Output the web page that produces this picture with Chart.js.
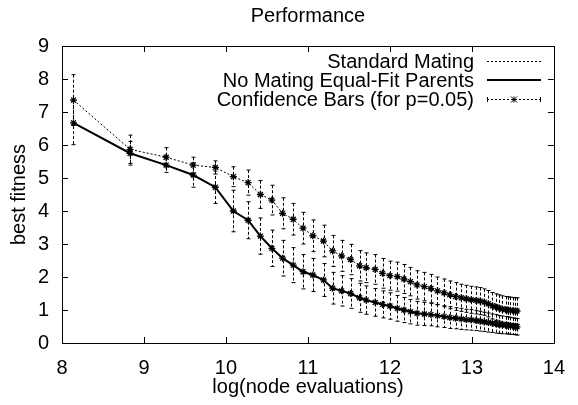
<!DOCTYPE html>
<html>
<head>
<meta charset="utf-8">
<script src="https://cdn.jsdelivr.net/npm/chart.js@4/dist/chart.umd.min.js"></script>
<style>
  html, body { margin: 0; padding: 0; background: #fff; }
  #wrap { width: 578px; height: 405px; }
</style>
</head>
<body>
<div id="wrap"><canvas id="chart" width="578" height="405"></canvas></div>
<script>
const FONT = "'Liberation Sans', Arial, Helvetica, sans-serif";

// log(node evaluations) for each generation
const logEvals = [8.14, 8.83, 9.27, 9.60, 9.87, 10.09, 10.27, 10.42, 10.56, 10.69,
  10.82, 10.94, 11.06, 11.19, 11.30, 11.41, 11.52, 11.63, 11.71, 11.82,
  11.91, 12.00, 12.09, 12.17, 12.25, 12.33, 12.42, 12.50, 12.58, 12.66,
  12.73, 12.80, 12.87, 12.93, 12.99, 13.05, 13.10, 13.15, 13.20, 13.25,
  13.29, 13.33, 13.37, 13.41, 13.44, 13.47, 13.50, 13.53, 13.55];

const standardMating = [7.36, 5.87, 5.63, 5.39, 5.32, 5.04, 4.86, 4.50, 4.33, 3.93,
  3.75, 3.48, 3.25, 3.09, 2.79, 2.64, 2.53, 2.34, 2.28, 2.23,
  2.11, 2.04, 2.01, 1.94, 1.86, 1.76, 1.71, 1.65, 1.58, 1.52,
  1.46, 1.41, 1.37, 1.34, 1.31, 1.29, 1.27, 1.24, 1.19, 1.13,
  1.09, 1.06, 1.03, 1.01, 1.00, 0.99, 0.98, 0.97, 0.97];

const standardErr = [0.77, 0.43, 0.29, 0.24, 0.20, 0.30, 0.38, 0.42, 0.45, 0.47,
  0.48, 0.48, 0.48, 0.48, 0.47, 0.47, 0.46, 0.46, 0.45, 0.45,
  0.45, 0.44, 0.44, 0.44, 0.43, 0.43, 0.43, 0.43, 0.42, 0.42,
  0.42, 0.42, 0.41, 0.41, 0.41, 0.41, 0.41, 0.40, 0.40, 0.40,
  0.40, 0.40, 0.40, 0.40, 0.40, 0.40, 0.40, 0.40, 0.40];

const noMating = [6.67, 5.75, 5.39, 5.09, 4.72, 4.00, 3.72, 3.24, 2.87, 2.57,
  2.36, 2.16, 2.06, 1.91, 1.66, 1.58, 1.50, 1.37, 1.30, 1.23,
  1.17, 1.12, 1.05, 1.00, 0.95, 0.90, 0.88, 0.86, 0.83, 0.80,
  0.77, 0.75, 0.73, 0.71, 0.70, 0.68, 0.66, 0.64, 0.62, 0.60,
  0.58, 0.56, 0.55, 0.54, 0.53, 0.52, 0.51, 0.50, 0.49];

const noMatingErr = [0.66, 0.36, 0.22, 0.37, 0.49, 0.63, 0.56, 0.55, 0.55, 0.54,
  0.53, 0.52, 0.50, 0.50, 0.48, 0.46, 0.45, 0.44, 0.43, 0.42,
  0.41, 0.40, 0.39, 0.38, 0.37, 0.36, 0.35, 0.34, 0.34, 0.33,
  0.33, 0.32, 0.32, 0.31, 0.31, 0.30, 0.30, 0.29, 0.29, 0.28,
  0.28, 0.27, 0.27, 0.26, 0.26, 0.26, 0.25, 0.25, 0.25];

const xTicks = [8, 9, 10, 11, 12, 13, 14];
const yTicks = [0, 1, 2, 3, 4, 5, 6, 7, 8, 9];

const legendLabels = ["Standard Mating", "No Mating Equal-Fit Parents", "Confidence Bars (for p=0.05)"];

const toPoints = (ys) => ys.map((y, i) => ({ x: logEvals[i], y: y }));

// vertical dashed confidence bars with small caps
const errorBars = {
  id: "errorBars",
  beforeDatasetsDraw(chart) {
    const { ctx, scales: { x, y } } = chart;
    const sets = [[standardMating, standardErr], [noMating, noMatingErr]];
    ctx.save();
    ctx.strokeStyle = "#000";
    ctx.lineWidth = 1;
    sets.forEach(([vals, errs]) => {
      vals.forEach((v, i) => {
        const px = Math.round(x.getPixelForValue(logEvals[i])) + 0.5;
        const top = y.getPixelForValue(v + errs[i]);
        const bot = y.getPixelForValue(v - errs[i]);
        ctx.setLineDash([3, 2]);
        ctx.beginPath();
        ctx.moveTo(px, top);
        ctx.lineTo(px, bot);
        ctx.stroke();
        ctx.setLineDash([]);
        ctx.beginPath();
        ctx.moveTo(px - 2, top);
        ctx.lineTo(px + 2, top);
        ctx.moveTo(px - 2, bot);
        ctx.lineTo(px + 2, bot);
        ctx.stroke();
      });
    });
    ctx.restore();
  }
};

// gnuplot-like frame, inward ticks, title and legend
const frame = {
  id: "frame",
  afterDraw(chart) {
    const { ctx, chartArea: a, scales: { x, y } } = chart;
    ctx.save();
    ctx.strokeStyle = "#000";
    ctx.lineWidth = 1;
    ctx.setLineDash([]);
    ctx.strokeRect(Math.round(a.left) + 0.5, Math.round(a.top) + 0.5,
      Math.round(a.right - a.left), Math.round(a.bottom - a.top));
    ctx.beginPath();
    xTicks.forEach(t => {
      const px = Math.round(x.getPixelForValue(t)) + 0.5;
      ctx.moveTo(px, a.bottom); ctx.lineTo(px, a.bottom - 6);
      ctx.moveTo(px, a.top); ctx.lineTo(px, a.top + 6);
    });
    yTicks.forEach(t => {
      const py = Math.round(y.getPixelForValue(t)) + 0.5;
      ctx.moveTo(a.left, py); ctx.lineTo(a.left + 6, py);
      ctx.moveTo(a.right, py); ctx.lineTo(a.right - 6, py);
    });
    ctx.stroke();

    // title
    ctx.fillStyle = "#000";
    ctx.font = "20px " + FONT;
    ctx.textAlign = "center";
    ctx.textBaseline = "alphabetic";
    ctx.fillText("Performance", (a.left + a.right) / 2, 22);

    // legend
    const textRight = 474, s0 = 487, s1 = 541;
    const rows = [61, 80, 99];
    ctx.textAlign = "right";
    ctx.textBaseline = "middle";
    legendLabels.forEach((lbl, i) => ctx.fillText(lbl, textRight, rows[i] + 1));

    ctx.lineWidth = 1;
    ctx.setLineDash([2, 2]);
    ctx.beginPath();
    ctx.moveTo(s0, rows[0] + 0.5); ctx.lineTo(s1, rows[0] + 0.5);
    ctx.stroke();

    ctx.setLineDash([]);
    ctx.lineWidth = 2;
    ctx.beginPath();
    ctx.moveTo(s0, rows[1]); ctx.lineTo(s1, rows[1]);
    ctx.stroke();

    ctx.lineWidth = 1;
    ctx.setLineDash([2, 2]);
    ctx.beginPath();
    ctx.moveTo(s0, rows[2] + 0.5); ctx.lineTo(s1, rows[2] + 0.5);
    ctx.stroke();
    ctx.setLineDash([]);
    ctx.beginPath();
    ctx.moveTo(s0 + 0.5, rows[2] - 2); ctx.lineTo(s0 + 0.5, rows[2] + 3);
    ctx.moveTo(s1 - 0.5, rows[2] - 2); ctx.lineTo(s1 - 0.5, rows[2] + 3);
    const cx = (s0 + s1) / 2, cy = rows[2] + 0.5, r = 3;
    ctx.moveTo(cx - r, cy); ctx.lineTo(cx + r, cy);
    ctx.moveTo(cx, cy - r); ctx.lineTo(cx, cy + r);
    ctx.moveTo(cx - r, cy - r); ctx.lineTo(cx + r, cy + r);
    ctx.moveTo(cx - r, cy + r); ctx.lineTo(cx + r, cy - r);
    ctx.stroke();
    ctx.restore();
  }
};

new Chart(document.getElementById("chart"), {
  type: "line",
  data: {
    datasets: [
      {
        label: legendLabels[0],
        data: toPoints(standardMating),
        borderColor: "#000",
        borderWidth: 1,
        borderDash: [2, 2],
        pointStyle: "star",
        pointRadius: 3.5,
        pointBorderColor: "#000",
        pointBorderWidth: 1.3,
        fill: false,
        tension: 0
      },
      {
        label: legendLabels[1],
        data: toPoints(noMating),
        borderColor: "#000",
        borderWidth: 2,
        pointStyle: "star",
        pointRadius: 3.5,
        pointBorderColor: "#000",
        pointBorderWidth: 1.3,
        fill: false,
        tension: 0
      }
    ]
  },
  options: {
    responsive: false,
    animation: false,
    events: [],
    layout: { padding: { top: 46, right: 12, left: 0, bottom: 0 } },
    plugins: {
      legend: { display: false },
      title: { display: false },
      tooltip: { enabled: false }
    },
    scales: {
      x: {
        type: "linear",
        min: 8,
        max: 14,
        afterFit: (s) => { s.height = 62; },
        afterBuildTicks: (s) => { s.ticks = xTicks.map(v => ({ value: v })); },
        grid: { display: false, drawTicks: false },
        border: { display: false },
        ticks: { color: "#000", padding: 13, font: { family: FONT, size: 20 } },
        title: { display: true, text: "log(node evaluations)", color: "#000",
          padding: { top: 0, bottom: 6 }, font: { family: FONT, size: 20 } }
      },
      y: {
        min: 0,
        max: 9,
        afterFit: (s) => { s.width = 62; },
        afterBuildTicks: (s) => { s.ticks = yTicks.map(v => ({ value: v })); },
        grid: { display: false, drawTicks: false },
        border: { display: false },
        ticks: { color: "#000", padding: 13, font: { family: FONT, size: 20 } },
        title: { display: true, text: "best fitness", color: "#000",
          padding: { top: 7, bottom: 0 }, font: { family: FONT, size: 20 } }
      }
    }
  },
  plugins: [errorBars, frame]
});
</script>
</body>
</html>
